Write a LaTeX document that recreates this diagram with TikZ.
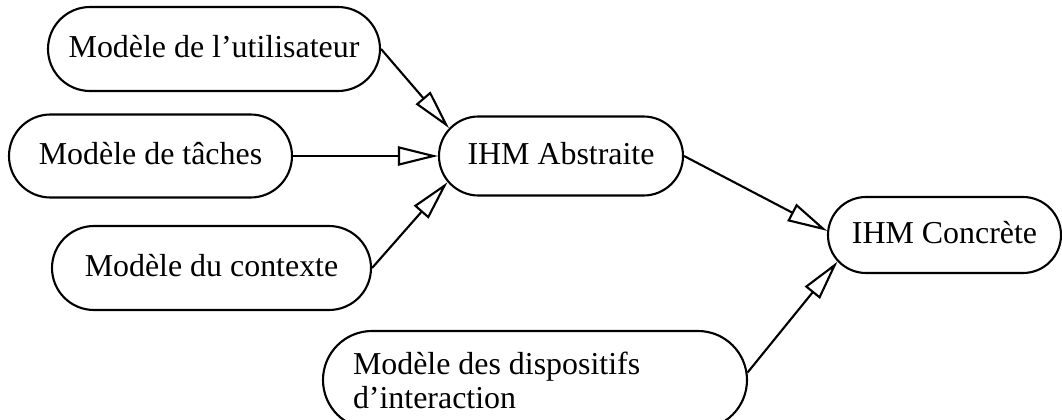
\documentclass[tikz,border=0pt]{standalone}
\usepackage{fontspec}
\setmainfont{Liberation Serif}
\usepackage{tikz}
\usetikzlibrary{shapes.misc,arrows.meta}

\tikzset{
  modele/.style={rounded rectangle, draw, line width=1.5pt, inner xsep=-1cm,
    font=\fontsize{22.7pt}{24.2pt}\selectfont, text height=15pt, text depth=3pt},
  fleche/.style={-{Triangle[open,length=1cm,width=0.48cm]}, line width=1.5pt}
}

\begin{document}
\begin{tikzpicture}
\useasboundingbox (0,0) rectangle (26.55,-10.475);
\node[modele, minimum width=6.3cm, minimum height=2.1cm] (user) at (5.35,-1.225) {Modèle de l'utilisateur};
\node[modele, minimum width=5.075cm, minimum height=2.075cm] (task) at (3.7625,-3.9) {Modèle de tâches};
\node[modele, minimum width=5.975cm, minimum height=2.1cm] (ctx) at (5.2875,-6.7) {Modèle du contexte};
\node[modele, minimum width=4.1cm, minimum height=1.975cm] (abs) at (14.025,-3.9) {IHM Abstraite};
\node[modele, minimum width=3.825cm, minimum height=1.9cm] (conc) at (23.6125,-5.875) {IHM Concrète};
\node[modele, minimum width=8.6cm, minimum height=2.45cm, text width=9.1cm, align=flush left,
  text height=, text depth=] (disp) at (13.375,-9.5) {Modèle des dispositifs\\d'interaction};
\draw[fleche] (user.east) -- (abs.166);
\draw[fleche] (task.east) -- (abs.west);
\draw[fleche] (ctx.east) -- (abs.193);
\draw[fleche] (abs.east) -- (conc.178);
\draw[fleche] (disp.2) -- (conc.194);
\end{tikzpicture}
\end{document}
